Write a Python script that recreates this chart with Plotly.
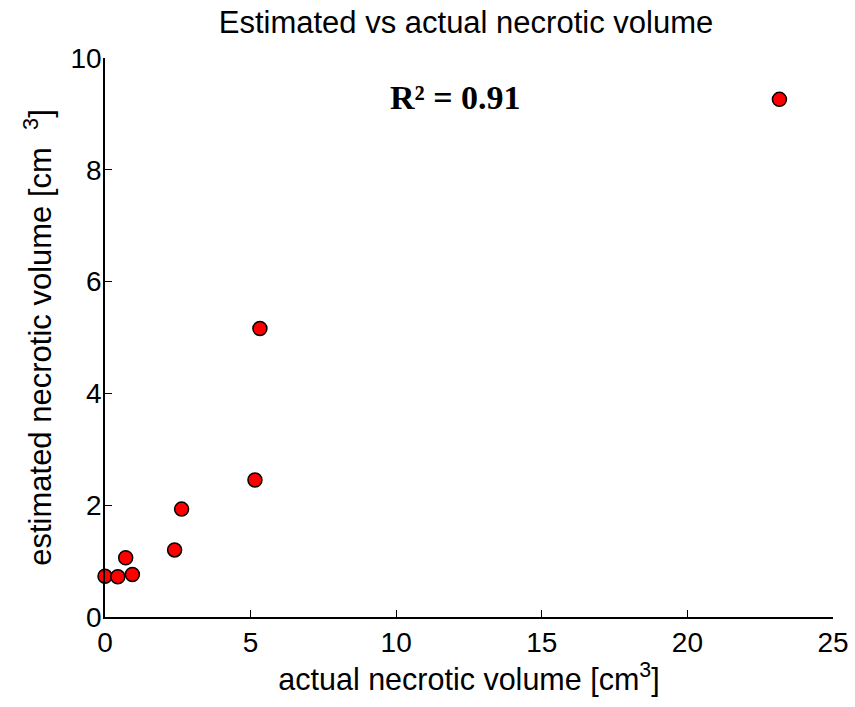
import plotly.graph_objects as go

actual_volume = [0.0, 0.44, 0.94, 0.71, 2.39, 2.63, 5.32, 5.15, 23.16]
estimated_volume = [0.73, 0.72, 0.76, 1.06, 1.20, 1.93, 5.16, 2.45, 9.26]
x_ticks = [0, 5, 10, 15, 20, 25]
y_ticks = [0, 2, 4, 6, 8, 10]

FONT = "Liberation Sans, Arial, Helvetica, sans-serif"

fig = go.Figure()
fig.add_trace(go.Scatter(
    x=actual_volume, y=estimated_volume, mode="markers",
    marker=dict(color="#ff0000", size=14, line=dict(color="black", width=1.5)),
    cliponaxis=False, showlegend=False,
))

fig.update_layout(
    width=855, height=707,
    margin=dict(l=105, r=22, t=58, b=90),
    paper_bgcolor="white", plot_bgcolor="white",
    font=dict(family=FONT, color="black", size=28),
    title=dict(text="Estimated vs actual necrotic volume", x=0.545, xanchor="center",
               y=0.969, yanchor="middle", font=dict(size=31, family=FONT)),
    xaxis=dict(range=[0, 25], tickvals=x_ticks, ticks="inside", ticklen=7,
               tickcolor="black", showline=True, linecolor="black", linewidth=1.5,
               showgrid=False, zeroline=False, tickfont=dict(size=28), automargin=False,
               ticklabelstandoff=0,
               title=dict(text="actual necrotic volume [cm<sup>3</sup>]", font=dict(size=30.5), standoff=4)),
    yaxis=dict(range=[0, 10], tickvals=y_ticks, ticks="inside", ticklen=7,
               tickcolor="black", showline=True, linecolor="black", linewidth=1.5,
               showgrid=False, zeroline=False, tickfont=dict(size=28), automargin=False,
               ticklabelstandoff=-4,
               title=dict(text="estimated necrotic volume [cm  <sup>3</sup>]" + "\u00a0" * 7,
                          font=dict(size=31), standoff=10)),
    annotations=[dict(text="<b>R² = 0.91</b>", x=(455 - 105) / (855 - 105 - 22), y=9.3,
                      xref="paper", yref="y",
                      xanchor="center", yanchor="middle", showarrow=False,
                      font=dict(family="Liberation Serif, Times New Roman, serif", size=34))],
)

fig.write_html("out.html", config={"displayModeBar": False},
               post_script="document.body.style.margin='0';")
